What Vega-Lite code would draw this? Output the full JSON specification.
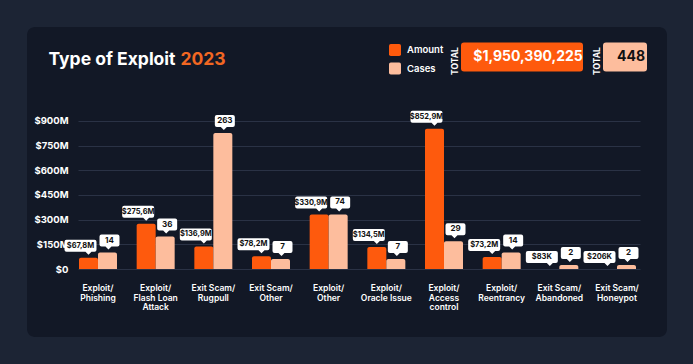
{
  "$schema": "https://vega.github.io/schema/vega-lite/v6.json",
  "width": 640,
  "height": 310,
  "autosize": {"type": "none"},
  "padding": {"left": 27, "top": 27, "right": 26, "bottom": 27},
  "background": "#1c2434",
  "view": {"fill": "#121826", "stroke": null, "cornerRadius": 8},
  "config": {
    "font": "Inter",
    "view": {"fill": "#121826", "stroke": null, "cornerRadius": 8}
  },
  "data": {
    "values": [
      {"type": "Exploit/\nPhishing", "series": "Amount", "value": 67.8, "label": "$67,8M"},
      {"type": "Exploit/\nPhishing", "series": "Cases", "value": 14, "label": "14"},
      {"type": "Exploit/\nFlash Loan\nAttack", "series": "Amount", "value": 275.6, "label": "$275,6M"},
      {"type": "Exploit/\nFlash Loan\nAttack", "series": "Cases", "value": 36, "label": "36"},
      {"type": "Exit Scam/\nRugpull", "series": "Amount", "value": 136.9, "label": "$136,9M"},
      {"type": "Exit Scam/\nRugpull", "series": "Cases", "value": 263, "label": "263"},
      {"type": "Exit Scam/\nOther", "series": "Amount", "value": 78.2, "label": "$78,2M"},
      {"type": "Exit Scam/\nOther", "series": "Cases", "value": 7, "label": "7"},
      {"type": "Exploit/\nOther", "series": "Amount", "value": 330.9, "label": "$330,9M"},
      {"type": "Exploit/\nOther", "series": "Cases", "value": 74, "label": "74"},
      {"type": "Exploit/\nOracle Issue", "series": "Amount", "value": 134.5, "label": "$134,5M"},
      {"type": "Exploit/\nOracle Issue", "series": "Cases", "value": 7, "label": "7"},
      {"type": "Exploit/\nAccess\ncontrol", "series": "Amount", "value": 852.9, "label": "$852,9M"},
      {"type": "Exploit/\nAccess\ncontrol", "series": "Cases", "value": 29, "label": "29"},
      {"type": "Exploit/\nReentrancy", "series": "Amount", "value": 73.2, "label": "$73,2M"},
      {"type": "Exploit/\nReentrancy", "series": "Cases", "value": 14, "label": "14"},
      {"type": "Exit Scam/\nAbandoned", "series": "Amount", "value": 0.083, "label": "$83K"},
      {"type": "Exit Scam/\nAbandoned", "series": "Cases", "value": 2, "label": "2"},
      {"type": "Exit Scam/\nHoneypot", "series": "Amount", "value": 0.206, "label": "$206K"},
      {"type": "Exit Scam/\nHoneypot", "series": "Cases", "value": 2, "label": "2"}
    ]
  },
  "layer": [
    {
      "transform": [{"filter": "datum.series == 'Amount'"}],
      "encoding": {
        "x": {
          "field": "type", "type": "nominal", "sort": null,
          "scale": {"paddingInner": 0.341, "paddingOuter": 0.7196, "align": 0.6265},
          "axis": {
            "orient": "bottom", "offset": -65, "title": null, "domain": false, "ticks": false,
            "labelAngle": 0, "labelPadding": 11.5, "labelBaseline": "top",
            "labelExpr": "split(datum.label, '\\n')",
            "labelColor": "#ffffff", "labelFontSize": 8.5, "labelFontWeight": 600,
            "labelLineHeight": 9.6, "labelLimit": 200, "zindex": 0
          }
        },
        "xOffset": {"field": "series", "type": "nominal", "scale": {"domain": ["Amount", "Cases"], "paddingInner": 0, "paddingOuter": 0}},
        "y": {
          "field": "value", "type": "quantitative",
          "scale": {"domain": [-413.5, 1471.6], "nice": false, "zero": false},
          "axis": {
            "orient": "left", "offset": -51, "values": [0, 150, 300, 450, 600, 750, 900],
            "domain": false, "grid": false, "ticks": true,
            "tickSize": -562, "tickColor": "#2a3245", "tickWidth": 1,
            "labelPadding": 572, "labelAlign": "right", "labelBaseline": "middle",
            "labelExpr": "datum.value == 0 ? '$0' : '$' + datum.value + 'M'",
            "labelColor": "#ffffff", "labelFontSize": 9.5, "labelFontWeight": "bold", "zindex": 0,
            "title": "Type of Exploit", "titleAngle": 0, "titleX": -30, "titleY": 37,
            "titleAlign": "left", "titleBaseline": "alphabetic",
            "titleColor": "#ffffff", "titleFont": "Inter", "titleFontSize": 17.5, "titleFontWeight": "bold"
          }
        }
      },
      "layer": [
        {
          "mark": {"type": "bar", "cornerRadiusTopLeft": 2, "cornerRadiusTopRight": 2},
          "encoding": {
            "y2": {"datum": 0},
            "color": {
              "field": "series", "type": "nominal",
              "scale": {"domain": ["Amount", "Cases"], "range": ["#fe5a0d", "#fdbd9d"]},
              "legend": {
                "orient": "none", "legendX": 362, "legendY": 17, "title": null, "padding": 0,
                "symbolType": "M-0.7,-1H0.7Q1,-1 1,-0.7V0.7Q1,1 0.7,1H-0.7Q-1,1 -1,0.7V-0.7Q-1,-1 -0.7,-1Z",
                "symbolSize": 144, "symbolStrokeWidth": 0, "symbolOpacity": 1,
                "labelColor": "#ffffff", "labelFontSize": 9.5, "labelFontWeight": 600,
                "labelOffset": 6, "rowPadding": 6.5
              }
            }
          }
        },
        {
          "mark": {"type": "point", "shape": "M-22,-18H6Q8,-18 8,-16V-8Q8,-6 6,-6H3L0,-3L-3,-6H-22Q-24,-6 -24,-8V-16Q-24,-18 -22,-18Z", "size": 4, "filled": true, "color": "#ffffff", "opacity": 1, "strokeWidth": 0}
        },
        {
          "mark": {"type": "text", "dx": -8, "dy": -12, "fontSize": 7.5, "fontWeight": "bold", "color": "#111111", "baseline": "middle", "align": "center"},
          "encoding": {"text": {"field": "label"}}
        }
      ]
    },
    {
      "transform": [{"filter": "datum.series == 'Cases'"}],
      "encoding": {
        "x": {"field": "type", "type": "nominal", "sort": null},
        "xOffset": {"field": "series", "type": "nominal"},
        "y": {
          "field": "value", "type": "quantitative",
          "scale": {"type": "pow", "exponent": 0.72, "domain": [-100.4, 585.8], "nice": false, "zero": false},
          "axis": {
            "orient": "right", "values": [], "labels": false, "ticks": false, "domain": false, "grid": false,
            "title": "2023", "titleAngle": 0, "titleX": -487, "titleY": 37,
            "titleAlign": "left", "titleBaseline": "alphabetic",
            "titleColor": "#f26722", "titleFont": "Inter", "titleFontSize": 17.5, "titleFontWeight": "bold"
          }
        }
      },
      "layer": [
        {
          "mark": {"type": "bar", "cornerRadiusTopLeft": 2, "cornerRadiusTopRight": 2},
          "encoding": {
            "y2": {"datum": 0},
            "color": {"field": "series", "type": "nominal"}
          }
        },
        {
          "mark": {"type": "point", "shape": "M-6,-18H10Q12,-18 12,-16V-8Q12,-6 10,-6H4L1,-3L-2,-6H-6Q-8,-6 -8,-8V-16Q-8,-18 -6,-18Z", "size": 4, "filled": true, "color": "#ffffff", "opacity": 1, "strokeWidth": 0}
        },
        {
          "mark": {"type": "text", "dx": 2, "dy": -12, "fontSize": 8, "fontWeight": "bold", "color": "#111111", "baseline": "middle", "align": "center"},
          "encoding": {"text": {"field": "label"}}
        }
      ]
    },
    {
      "data": {"values": [{"measure": "Amount", "total": "$1,950,390,225"}]},
      "mark": {"type": "point", "opacity": 0, "filled": true},
      "encoding": {
        "fill": {
          "field": "total", "type": "nominal",
          "scale": {"range": ["#fe5a0d"]},
          "legend": {
            "orient": "none", "legendX": 424, "legendY": 23, "padding": 0,
            "title": "TOTAL", "titleOrient": "left", "titlePadding": 2,
            "titleColor": "#ffffff", "titleFontSize": 8.5, "titleFontWeight": "bold",
            "titleAlign": "center", "titleBaseline": "middle",
            "symbolType": "M-9,-14.5H107Q110,-14.5 110,-11.5V11.5Q110,14.5 107,14.5H-9Q-12,14.5 -12,11.5V-11.5Q-12,-14.5 -9,-14.5Z",
            "symbolSize": 4, "symbolStrokeWidth": 0, "symbolOpacity": 1,
            "labelColor": "#ffffff", "labelFontSize": 14, "labelFontWeight": "bold",
            "labelAlign": "center", "labelOffset": 48, "labelLimit": 300,
            "encoding": {"title": {"angle": {"value": 270}}}
          }
        }
      }
    },
    {
      "data": {"values": [{"measure": "Cases", "total": "448"}]},
      "mark": {"type": "point", "opacity": 0, "filled": true, "fill": "#fdbd9d", "color": "#fdbd9d"},
      "encoding": {
        "shape": {
          "field": "total", "type": "nominal",
          "scale": {"range": ["M-9,-14.5H29Q32,-14.5 32,-11.5V11.5Q32,14.5 29,14.5H-9Q-12,14.5 -12,11.5V-11.5Q-12,-14.5 -9,-14.5Z"]},
          "legend": {
            "orient": "none", "legendX": 566, "legendY": 23, "padding": 0,
            "title": "TOTAL", "titleOrient": "left", "titlePadding": 2,
            "titleColor": "#ffffff", "titleFontSize": 8.5, "titleFontWeight": "bold",
            "titleAlign": "center", "titleBaseline": "middle",
            "symbolSize": 4, "symbolStrokeWidth": 0, "symbolOpacity": 1, "symbolFillColor": "#fdbd9d",
            "labelColor": "#111111", "labelFontSize": 14, "labelFontWeight": "bold",
            "labelAlign": "center", "labelOffset": 9, "labelLimit": 300,
            "encoding": {"title": {"angle": {"value": 270}}}
          }
        }
      }
    }
  ],
  "resolve": {"scale": {"y": "independent"}}
}
